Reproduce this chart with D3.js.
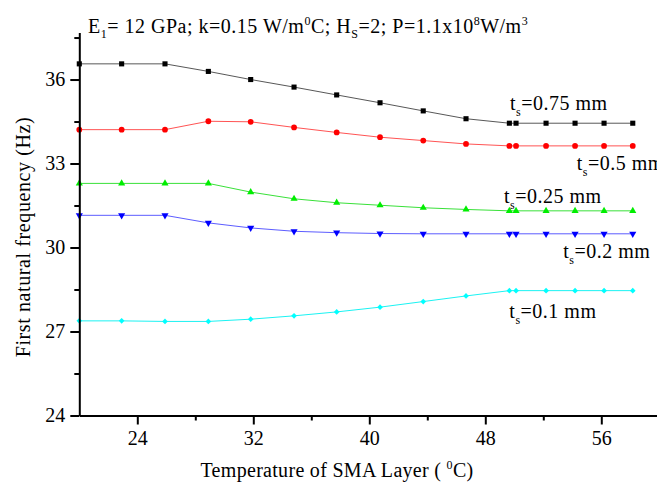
<!DOCTYPE html>
<html>
<head>
<meta charset="utf-8">
<script src="https://cdn.jsdelivr.net/npm/d3@7"></script>
<style>
  html, body { margin: 0; padding: 0; background: #fff; }
  svg { display: block; }
  text { font-family: "Liberation Serif", "Times New Roman", serif; fill: #000; }
</style>
</head>
<body>
<svg id="chart" width="657" height="482"></svg>
<script>
// ---- data ----
const temperatures = [20, 22.92, 25.91, 28.90, 31.82, 34.81, 37.75, 40.74, 43.72, 46.67, 49.66, 50.12, 52.19, 54.19, 56.19, 58.17];
const ts075 = [36.56, 36.56, 36.56, 36.29, 36.00, 35.73, 35.45, 35.17, 34.88, 34.60, 34.44, 34.44, 34.44, 34.44, 34.44, 34.44];
const ts05  = [34.21, 34.21, 34.21, 34.51, 34.49, 34.29, 34.11, 33.94, 33.82, 33.70, 33.63, 33.63, 33.63, 33.63, 33.63, 33.63];
const ts025 = [32.29, 32.29, 32.29, 32.29, 31.98, 31.74, 31.60, 31.51, 31.42, 31.36, 31.31, 31.31, 31.31, 31.31, 31.31, 31.31];
const ts02  = [31.15, 31.15, 31.15, 30.88, 30.70, 30.58, 30.53, 30.50, 30.49, 30.49, 30.49, 30.49, 30.49, 30.49, 30.49, 30.49];
const ts01  = [27.38, 27.38, 27.36, 27.36, 27.44, 27.56, 27.70, 27.87, 28.07, 28.27, 28.46, 28.46, 28.46, 28.46, 28.46, 28.46];
const seriesNames = ["0.75", "0.5", "0.25", "0.2", "0.1"];
const xMajorTicks = [24, 32, 40, 48, 56];
const xMinorTicks = [28, 36, 44, 52];
const yMajorTicks = [24, 27, 30, 33, 36];
const yMinorTicks = [25.5, 28.5, 31.5, 34.5, 37.5];

// ---- layout ----
const svg = d3.select("#chart");
const W = 657, H = 482;
const x = d3.scaleLinear().domain([20, 60]).range([79.3, 659.3]);
const y = d3.scaleLinear().domain([24, 37.68]).range([415.5, 32.5]);
const FONT = 20;
const LS = 0.5;

const series = [
  { name: seriesNames[0], values: ts075, color: "#000000", symbol: d3.symbolSquare, size: 26, rot: 0, lineColor: "#444" },
  { name: seriesNames[1], values: ts05,  color: "#ff0000", symbol: d3.symbolCircle, size: 26, rot: 0, lineColor: "#ff4040" },
  { name: seriesNames[2], values: ts025, color: "#00ee00", symbol: d3.symbolTriangle, size: 22, rot: 0, lineColor: "#22dd22" },
  { name: seriesNames[3], values: ts02,  color: "#0000ff", symbol: d3.symbolTriangle, size: 22, rot: 180, lineColor: "#4a4aff" },
  { name: seriesNames[4], values: ts01,  color: "#00ffff", symbol: d3.symbolSquare, size: 16, rot: 45, lineColor: "#00f0f0" }
];

svg.append("rect").attr("width", W).attr("height", H).attr("fill", "#fff");

// ---- lines & markers ----
const line = d3.line().x(d => x(d[0])).y(d => y(d[1]));
series.forEach(s => {
  const pts = temperatures.map((t, i) => [t, s.values[i]]);
  svg.append("path")
    .attr("d", line(pts))
    .attr("fill", "none")
    .attr("stroke", s.lineColor)
    .attr("stroke-width", 0.9);
  svg.append("g").selectAll("path").data(pts).join("path")
    .attr("d", d3.symbol().type(s.symbol).size(s.size))
    .attr("transform", d => `translate(${x(d[0])},${y(d[1])}) rotate(${s.rot})`)
    .attr("fill", s.color);
});

// ---- axes ----
const xAxis = svg.append("g").attr("transform", `translate(0,${y(24)})`)
  .call(d3.axisBottom(x).tickValues(xMajorTicks).tickSize(9).tickSizeOuter(0).tickPadding(6));
const xMinor = svg.append("g").attr("transform", `translate(0,${y(24)})`)
  .call(d3.axisBottom(x).tickValues(xMinorTicks).tickSize(5).tickSizeOuter(0).tickFormat(""));
const yAxis = svg.append("g").attr("transform", `translate(${x(20)},0)`)
  .call(d3.axisLeft(y).tickValues(yMajorTicks).tickSize(9).tickSizeOuter(0).tickPadding(5));
const yMinor = svg.append("g").attr("transform", `translate(${x(20)},0)`)
  .call(d3.axisLeft(y).tickValues(yMinorTicks).tickSize(5).tickSizeOuter(0).tickFormat(""));

[xAxis, xMinor, yAxis, yMinor].forEach(g => {
  g.select(".domain").attr("stroke", "#000").attr("stroke-width", 2);
  g.selectAll(".tick line").attr("stroke", "#000").attr("stroke-width", 2);
  g.selectAll(".tick text").attr("font-size", FONT).attr("font-family", "Liberation Serif, Times New Roman, serif").attr("fill", "#000");
});
xMinor.select(".domain").remove();
yMinor.select(".domain").remove();

// ---- axis titles ----
const xt = svg.append("text").attr("x", 337).attr("y", 477).attr("text-anchor", "middle")
  .attr("font-size", FONT).attr("letter-spacing", 0.3);
xt.append("tspan").text("Temperature of SMA Layer ( ");
xt.append("tspan").attr("font-size", 12).attr("dy", -8).text("0");
xt.append("tspan").attr("dy", 8).text("C)");

svg.append("text")
  .attr("transform", "translate(30,237) rotate(-90)")
  .attr("text-anchor", "middle")
  .attr("font-size", FONT)
  .attr("letter-spacing", 0.6)
  .text("First natural frequency (Hz)");

// ---- title annotation ----
const tt = svg.append("text").attr("x", 88).attr("y", 33.3).attr("font-size", FONT).attr("letter-spacing", LS);
const sub = (t) => { tt.append("tspan").attr("font-size", 12).attr("dy", 5).text(t); };
const sup = (t) => { tt.append("tspan").attr("font-size", 12).attr("dy", -8).text(t); };
const norm = (t, dy) => { tt.append("tspan").attr("dy", dy).text(t); };
norm("E", 0); sub("1"); norm("= 12 GPa; k=0.15 W/m", -5); sup("0"); norm("C; H", 8); sub("S"); norm("=2; P=1.1x10", -5); sup("8"); norm("W/m", 8); sup("3");

// ---- series labels ----
const labelPos = [
  { name: seriesNames[0], t: 49.7, v: 34.91 },
  { name: seriesNames[1], t: 54.3, v: 32.77 },
  { name: seriesNames[2], t: 49.29, v: 31.58 },
  { name: seriesNames[3], t: 53.38, v: 29.61 },
  { name: seriesNames[4], t: 49.66, v: 27.47 }
];
labelPos.forEach(l => {
  const tx = svg.append("text").attr("x", x(l.t)).attr("y", y(l.v)).attr("font-size", FONT).attr("letter-spacing", LS);
  tx.append("tspan").text("t");
  tx.append("tspan").attr("font-size", 12).attr("dy", 6).text("s");
  tx.append("tspan").attr("dy", -6).text("=" + l.name + " mm");
});
</script>
</body>
</html>
